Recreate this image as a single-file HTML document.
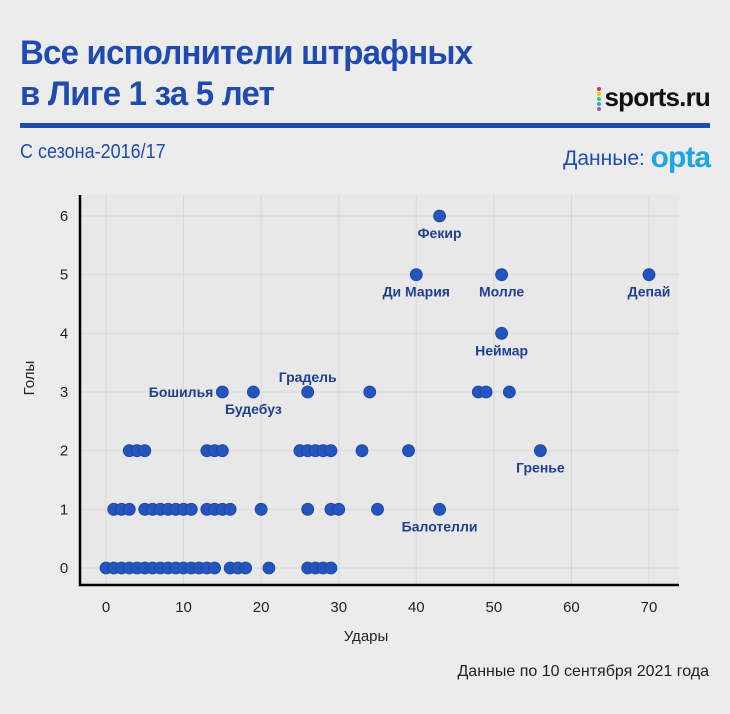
<!DOCTYPE html>
<html><head><meta charset="utf-8"><style>
body{margin:0;background:#ececec;}
#wrap{position:relative;width:730px;height:714px;background:#ececec;font-family:"Liberation Sans","DejaVu Sans",sans-serif;overflow:hidden}
.t{position:absolute;white-space:nowrap}
</style></head><body>
<div id="wrap">
<div class="t" style="left:20px;top:33px;font-size:34px;line-height:41px;font-weight:bold;color:#1f4bb0;transform:scaleX(0.97);transform-origin:left top;letter-spacing:-0.8px">Все исполнители штрафных<br>в Лиге 1 за 5 лет</div>
<div class="t" style="right:20px;top:82px;font-size:26px;font-weight:bold;color:#111;letter-spacing:-0.8px"><span style="display:inline-block;width:4px;vertical-align:middle;margin-right:4px;line-height:0"><i style="display:block;width:4px;height:4px;border-radius:2px;background:#e0324f;margin:1px 0"></i><i style="display:block;width:4px;height:4px;border-radius:2px;background:#f1c40f;margin:1px 0"></i><i style="display:block;width:4px;height:4px;border-radius:2px;background:#2ecc71;margin:1px 0"></i><i style="display:block;width:4px;height:4px;border-radius:2px;background:#3aa3e3;margin:1px 0"></i><i style="display:block;width:4px;height:4px;border-radius:2px;background:#9b59b6;margin:1px 0"></i></span>sports.ru</div>
<div style="position:absolute;left:20px;top:123px;width:690px;height:5px;background:#1f4bb0"></div>
<div class="t" style="left:20px;top:141px;font-size:20px;color:#1f4bb0;transform:scaleX(0.9);transform-origin:left top">С сезона-2016/17</div>
<div class="t" style="right:20px;top:139px;font-size:21px;color:#1f4bb0">Данные: <b style="color:#1ba7e6;font-size:30px;letter-spacing:-1px;position:relative;top:2px">opta</b></div>
<svg id="plot" width="730" height="714" style="position:absolute;left:0;top:0"></svg>
<div class="t" style="right:21px;top:663px;font-size:16px;color:#222">Данные по 10 сентября 2021 года</div>
</div>
<script>
const shotsX=[0,1,2,3,4,5,6,7,8,9,10,11,12,13,14,16,17,18,21,26,27,28,29,
 1,2,3,5,6,7,8,9,10,11,13,14,15,16,20,26,29,30,35,43,
 3,4,5,13,14,15,25,26,27,28,29,33,39,56,
 15,19,26,34,48,49,52, 51, 40,51,70, 43];
const goalsY=[0,0,0,0,0,0,0,0,0,0,0,0,0,0,0,0,0,0,0,0,0,0,0,
 1,1,1,1,1,1,1,1,1,1,1,1,1,1,1,1,1,1,1,1,
 2,2,2,2,2,2,2,2,2,2,2,2,2,2,
 3,3,3,3,3,3,3, 4, 5,5,5, 6];
const labelNames=["Фекир","Ди Мария","Молле","Депай","Неймар","Бошилья","Будебуз","Градель","Гренье","Балотелли"];
const labelX=[43,40,51,70,51,15,19,26,56,43];
const labelY=[6,5,5,5,4,3,3,3,2,1];
const labelPos=["below","below","below","below","below","left","below","above","below","below"];
const xTicks=[0,10,20,30,40,50,60,70];
const yTicks=[0,1,2,3,4,5,6];
const sx=v=>106+v*(649-106)/70;
const sy=v=>568-v*(568-216)/6;
const NS="http://www.w3.org/2000/svg";
const svg=document.getElementById('plot');
function mk(t,a){const e=document.createElementNS(NS,t);for(const k in a)e.setAttribute(k,a[k]);svg.appendChild(e);return e;}
const bg=mk('rect',{x:80,y:195,width:599,height:390,fill:'#e8e8e8'});


xTicks.forEach(v=>{
 const g=mk('line',{x1:sx(v),x2:sx(v),y1:195,y2:585,stroke:'#d8d8d8','stroke-width':1});
 
 
 const t=mk('text',{x:sx(v),y:612,'text-anchor':'middle','font-size':15,fill:'#222'});
 t.textContent=v;
 
 
});
yTicks.forEach(v=>{
 const g=mk('line',{x1:80,x2:679,y1:sy(v),y2:sy(v),stroke:'#d8d8d8','stroke-width':1});
 
 
 const t=mk('text',{x:64,y:sy(v)+5,'text-anchor':'middle','font-size':15,fill:'#222'});
 t.textContent=v;
 
 
});
const ax=mk('path',{d:'M80,195 V585 H679',fill:'none',stroke:'#000','stroke-width':2.5});


shotsX.forEach((x,i)=>{
 const c=mk('circle',{cx:sx(x),cy:sy(goalsY[i]),r:6,fill:'#2454bd',stroke:'#1c449c','stroke-width':0.8});
 
 
});
labelNames.forEach((n,i)=>{
 let x=sx(labelX[i]),y=sy(labelY[i]),anchor='middle';
 if(labelPos[i]=='below')y+=22;
 else if(labelPos[i]=='above')y-=10;
 else {x-=9;y+=5;anchor='end';}
 const t=mk('text',{x:x,y:y,'text-anchor':anchor,'font-size':14,'font-weight':'bold',fill:'#1f3f8f'});
 t.textContent=n;
 
 
});
const xt=mk('text',{x:366,y:641,'text-anchor':'middle','font-size':15,fill:'#222'});
xt.textContent='Удары';


const yt=mk('text',{x:34,y:378,'text-anchor':'middle','font-size':15,fill:'#222',transform:'rotate(-90 34 378)'});
yt.textContent='Голы';


</script>
</body></html>
